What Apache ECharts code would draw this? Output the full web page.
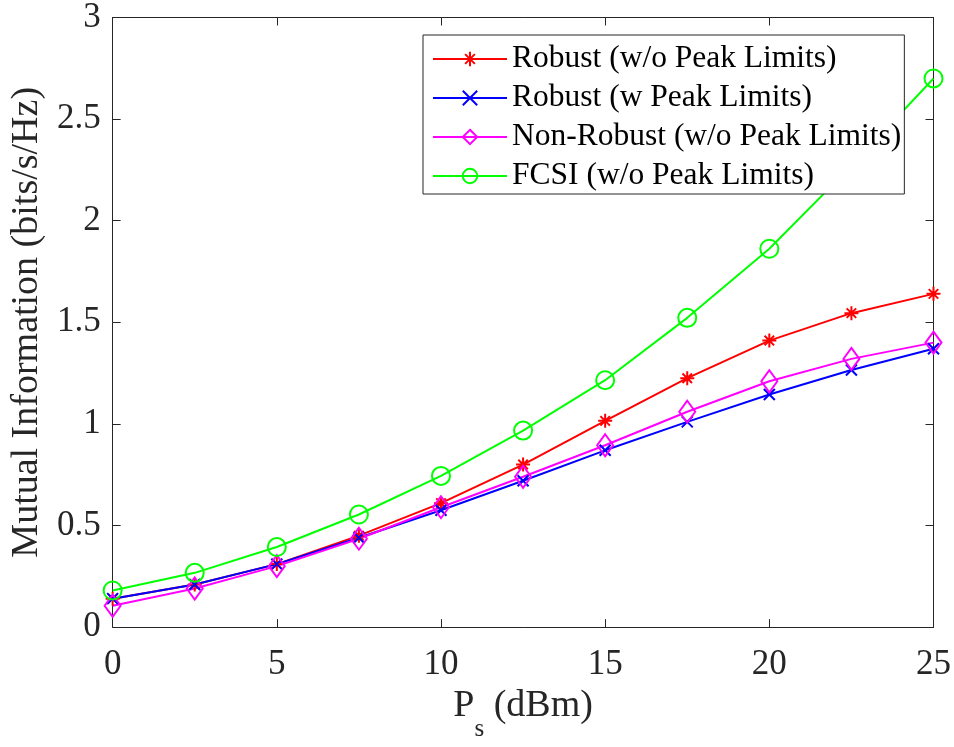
<!DOCTYPE html>
<html>
<head>
<meta charset="utf-8">
<script src="https://cdn.jsdelivr.net/npm/echarts@6/dist/echarts.min.js"></script>
<style>
  html, body { margin: 0; padding: 0; background: #fff; }
  #chart { width: 954px; height: 747px; }
</style>
</head>
<body>
<div id="chart"></div>
<script>
// Transmit power levels (dBm)
const powerDbm = [0, 2.5, 5, 7.5, 10, 12.5, 15, 17.5, 20, 22.5, 25];

// Mutual information (bits/s/Hz) for each scheme
const robustNoPeak    = [0.14, 0.21, 0.31, 0.45, 0.61, 0.80, 1.015, 1.225, 1.41, 1.545, 1.64];
const robustPeak      = [0.14, 0.21, 0.31, 0.44, 0.575, 0.72, 0.87, 1.01, 1.145, 1.265, 1.37];
const nonRobustNoPeak = [0.105, 0.19, 0.30, 0.435, 0.59, 0.74, 0.895, 1.06, 1.21, 1.32, 1.40];
const fcsiNoPeak      = [0.18, 0.267, 0.394, 0.554, 0.744, 0.967, 1.215, 1.522, 1.862, 2.27, 2.70];

const seriesNames = [
  'Robust (w/o Peak Limits)',
  'Robust (w Peak Limits)',
  'Non-Robust (w/o Peak Limits)',
  'FCSI (w/o Peak Limits)'
];

const xTicks = { min: 0, max: 25, interval: 5 };
const yTicks = { min: 0, max: 3, interval: 0.5 };

const FONT = '"Liberation Serif", "Times New Roman", serif';
const AX = '#262626';
const TICK_FS = 35;
const LABEL_FS = 38;
const LEGEND_FS = 31.5;

const STAR = 'path://M0,5L10,5M5,0L5,10M1.6,1.6L8.4,8.4M8.4,1.6L1.6,8.4';
const CROSS = 'path://M0,0L10,10M10,0L0,10';

function pairs(ys) { return powerDbm.map((x, i) => [x, ys[i]]); }

function lineSeries(name, ys, color, symbol, size) {
  return {
    name: name,
    type: 'line',
    data: pairs(ys),
    symbol: symbol,
    symbolSize: size,
    showAllSymbol: true,
    lineStyle: { color: color, width: 2 },
    itemStyle: { color: 'rgba(0,0,0,0)', borderColor: color, borderWidth: 2 },
    emphasis: { disabled: true },
    animation: false,
    z: 2
  };
}

const baseAxis = {
  axisLine: { show: true, onZero: false, lineStyle: { color: AX, width: 1 } },
  axisTick: { show: true, inside: true, length: 8, lineStyle: { color: AX } },
  splitLine: { show: false }
};

const chart = echarts.init(document.getElementById('chart'), null, { renderer: 'canvas' });

chart.setOption({
  backgroundColor: '#fff',
  animation: false,
  grid: { left: 112, right: 19, top: 13, bottom: 117, containLabel: false },
  legend: {
    orient: 'vertical',
    left: 423,
    top: 35,
    z: 10,
    padding: [8, 3, 2, 9],
    itemGap: 7,
    itemWidth: 74,
    itemHeight: 18,
    backgroundColor: '#fff',
    borderColor: AX,
    borderWidth: 1,
    data: seriesNames,
    textStyle: { fontFamily: FONT, fontSize: LEGEND_FS, color: '#000', lineHeight: 32 }
  },
  xAxis: [
    Object.assign({}, baseAxis, {
      type: 'value', position: 'bottom',
      min: xTicks.min, max: xTicks.max, interval: xTicks.interval,
      axisLabel: { fontFamily: FONT, fontSize: TICK_FS, color: AX, margin: 20 },
      name: '{p|P}{s|s}{p| (dBm)}',
      nameLocation: 'middle',
      nameGap: 58,
      nameTextStyle: {
        rich: {
          p: { fontFamily: FONT, fontSize: LABEL_FS, color: AX, lineHeight: 38, verticalAlign: 'top' },
          s: { fontFamily: FONT, fontSize: 25, color: AX, lineHeight: 25, verticalAlign: 'top', padding: [30, 0, 0, 0] }
        }
      }
    }),
    Object.assign({}, baseAxis, {
      type: 'value', position: 'top',
      min: xTicks.min, max: xTicks.max, interval: xTicks.interval,
      axisLabel: { show: false }
    })
  ],
  yAxis: [
    Object.assign({}, baseAxis, {
      type: 'value', position: 'left',
      min: yTicks.min, max: yTicks.max, interval: yTicks.interval,
      axisLabel: { fontFamily: FONT, fontSize: TICK_FS, color: AX, margin: 12 },
      name: 'Mutual Information (bits/s/Hz)',
      nameLocation: 'middle',
      nameGap: 66,
      nameTextStyle: { fontFamily: FONT, fontSize: LABEL_FS, color: AX }
    }),
    Object.assign({}, baseAxis, {
      type: 'value', position: 'right',
      min: yTicks.min, max: yTicks.max, interval: yTicks.interval,
      axisLabel: { show: false }
    })
  ],
  series: [
    lineSeries(seriesNames[0], robustNoPeak, '#ff0000', STAR, 14),
    lineSeries(seriesNames[1], robustPeak, '#0000ff', CROSS, 11),
    lineSeries(seriesNames[2], nonRobustNoPeak, '#ff00ff', 'diamond', [16, 22]),
    lineSeries(seriesNames[3], fcsiNoPeak, '#00ff00', 'circle', 18)
  ]
});
</script>
</body>
</html>
